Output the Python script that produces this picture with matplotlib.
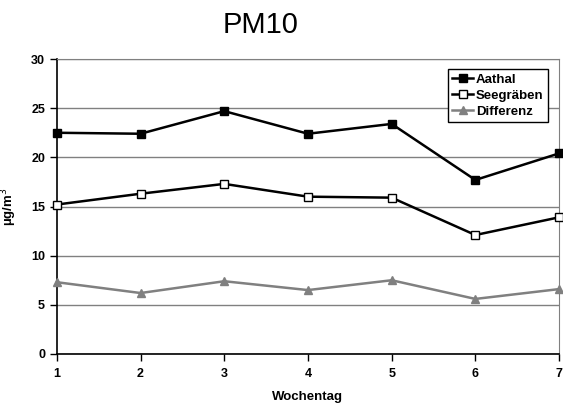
import matplotlib
matplotlib.use('Agg')
import matplotlib.pyplot as plt

plt.rcParams['font.family'] = ['Liberation Sans', 'DejaVu Sans']

days = [1, 2, 3, 4, 5, 6, 7]
aathal = [22.5, 22.4, 24.7, 22.4, 23.4, 17.7, 20.4]
seegraeben = [15.2, 16.3, 17.3, 16.0, 15.9, 12.1, 13.9]
differenz = [7.3, 6.2, 7.4, 6.5, 7.5, 5.6, 6.6]

fig = plt.figure(figsize=(5.63, 4.09), dpi=100)
ax = fig.add_axes([0.101, 0.1345, 0.892, 0.7212])

ax.plot(days, aathal, color='black', lw=1.8, marker='s', ms=6,
        markerfacecolor='black', label='Aathal', clip_on=False, zorder=3)
ax.plot(days, seegraeben, color='black', lw=1.8, marker='s', ms=6,
        markerfacecolor='white', markeredgecolor='black', mew=1,
        label='Seegräben', clip_on=False, zorder=3)
ax.plot(days, differenz, color='#808080', lw=1.8, marker='^', ms=6,
        markerfacecolor='#808080', label='Differenz', clip_on=False, zorder=3)

ax.set_xlim(1, 7)
ax.set_ylim(0, 30)
ax.set_xticks(days)
ax.set_yticks(range(0, 31, 5))
ax.yaxis.grid(True, color='#808080', lw=1)
ax.set_axisbelow(True)

for s in ['top', 'right']:
    ax.spines[s].set_color('#808080')
for s in ['left', 'bottom']:
    ax.spines[s].set_color('black')
    ax.spines[s].set_linewidth(1.2)

ax.tick_params(axis='both', direction='out', length=5, labelsize=9, width=1)
ax.tick_params(axis='x', pad=5)
for lbl in ax.get_xticklabels() + ax.get_yticklabels():
    lbl.set_fontweight('bold')

ax.set_xlabel('Wochentag', fontsize=9.5, fontweight='bold', labelpad=8)
ax.set_ylabel('µg/m$^3$', fontsize=9.5, fontweight='bold')
ax.yaxis.set_label_coords(-0.075, 0.5)
fig.text(0.462, 0.919, 'PM10', fontsize=21, ha='center', va='baseline')

leg = ax.legend(loc='upper right', bbox_to_anchor=(0.977, 0.965),
                prop={'weight': 'bold', 'size': 9.5}, fancybox=False,
                edgecolor='black', framealpha=1, handlelength=1.6,
                handletextpad=0.2, borderpad=0.3, labelspacing=0.3,
                borderaxespad=0)
leg.get_frame().set_linewidth(1)

fig.savefig('out.png', dpi=100)
